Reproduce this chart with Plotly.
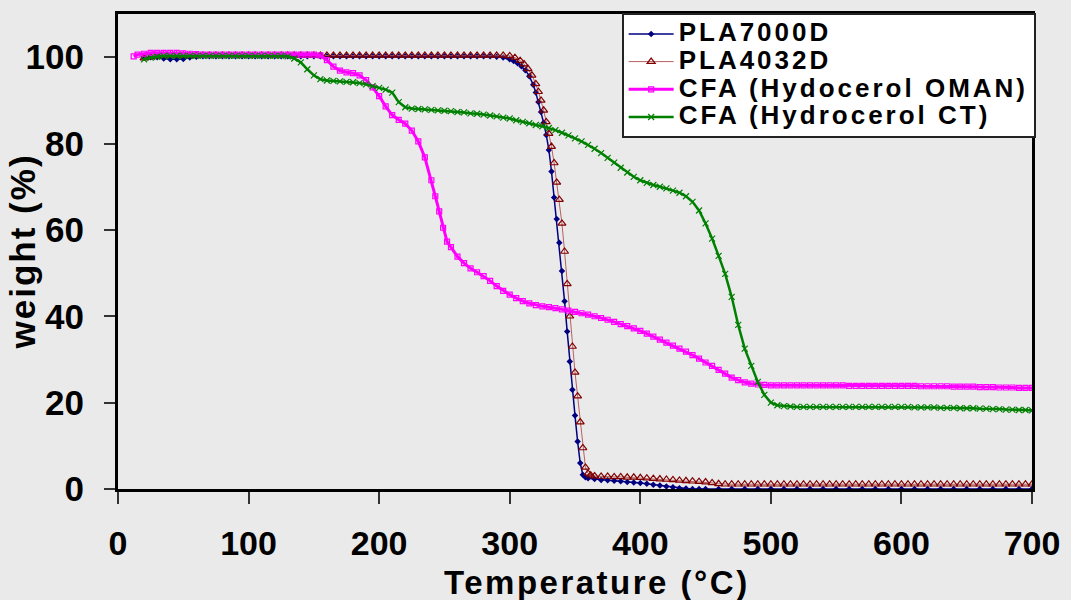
import plotly.graph_objects as go

# ---------------- data ----------------
series_names = ["PLA7000D", "PLA4032D", "CFA (Hydocerol OMAN)", "CFA (Hydrocerol CT)"]

x_ticks = [0, 100, 200, 300, 400, 500, 600, 700]
y_ticks = [0, 20, 40, 60, 80, 100]

# PLA7000D
t_pla7000 = [20, 25, 30, 35, 40, 45, 50, 55, 60,
             65, 70, 75, 80, 85, 90, 95, 100, 105, 110, 115, 120, 125, 130, 135, 140,
             145, 150, 155, 160, 165, 170, 175, 180, 185, 190, 195, 200, 205, 210, 215,
             220, 225, 230, 235, 240, 245, 250, 255, 260, 265, 270, 275, 280, 285,
             290, 295, 300, 303, 306, 309, 312, 315, 318, 320, 322, 324, 326, 328, 330,
             332, 334, 336, 338, 340, 342, 344, 346, 348, 350, 352, 354, 356, 358, 360,
             365, 370, 375, 380, 385, 390, 395, 400, 405, 410, 415, 420, 425, 430, 435,
             440, 445, 450, 460, 470, 480, 490, 500, 510, 520, 530, 540, 550, 560, 570,
             580, 590, 600, 610, 620, 630, 640, 650, 660, 670, 680, 690, 700]
w_pla7000 = [99.9, 100.0, 100.0, 99.7, 99.5, 99.5, 99.6, 99.9, 100.1,
             100.2, 100.2, 100.2, 100.2, 100.2, 100.2, 100.2, 100.2, 100.2, 100.2, 100.2, 100.2, 100.2, 100.2, 100.2, 100.2,
             100.2, 100.2, 100.2, 100.2, 100.2, 100.2, 100.2, 100.2, 100.2, 100.2, 100.2, 100.2, 100.2, 100.2, 100.2,
             100.2, 100.2, 100.2, 100.2, 100.2, 100.2, 100.2, 100.2, 100.2, 100.2, 100.2, 100.2, 100.2, 100.2,
             100.1, 99.9, 99.5, 99.1, 98.6, 97.9, 97.0, 95.6, 93.6, 91.8, 89.6, 87.3, 84.8, 82.0, 78.5,
             73.5, 67.5, 62.5, 57.0, 50.5, 43.5, 36.5, 29.5, 23.0, 17.0, 11.0, 6.0, 3.3, 2.7, 2.5,
             2.3, 2.1, 2.0, 1.9, 1.8, 1.6, 1.5, 1.4, 1.2, 1.0, 0.8, 0.6, 0.4, 0.2, 0.1,
             0.0, 0.0, 0.0, 0.0, 0.0, 0.0, 0.0, 0.0, 0.0, 0.0, 0.0, 0.0, 0.0, 0.0, 0.0,
             0.0, 0.0, 0.0, 0.0, 0.0, 0.0, 0.0, 0.0, 0.0, 0.0, 0.0, 0.0, 0.0]

# PLA4032D
t_pla4032 = [20, 25, 30, 35, 40, 45, 50, 55, 60, 65, 70, 75, 80, 85, 90, 95, 100,
             105, 110, 115, 120, 125, 130, 135, 140, 145, 150, 155, 160, 165, 170, 175, 180,
             185, 190, 195, 200, 205, 210, 215, 220, 225, 230, 235, 240, 245, 250, 255, 260,
             265, 270, 275, 280, 285, 290, 295,
             300, 304, 308, 311, 314, 317, 320, 322, 324, 326, 328, 330, 332, 334, 336, 338,
             340, 342, 344, 346, 348, 350, 352, 354, 356, 358, 360, 362, 365, 370,
             375, 380, 385, 390, 395, 400, 405, 410, 415, 420, 425, 430, 435, 440, 445, 450,
             455, 460, 465, 470, 475, 480, 485, 490, 495, 500, 505, 510, 515, 520, 525, 530,
             535, 540, 545, 550, 555, 560, 565, 570, 575, 580, 585, 590, 595, 600, 605, 610,
             615, 620, 625, 630, 635, 640, 645, 650, 655, 660, 665, 670, 675, 680, 685, 690,
             695, 700]
w_pla4032 = [99.8, 100.0, 100.2, 100.4, 100.4, 100.4, 100.4, 100.4, 100.4, 100.4, 100.4, 100.4, 100.4, 100.4, 100.4, 100.4, 100.4,
             100.4, 100.4, 100.4, 100.4, 100.4, 100.4, 100.4, 100.4, 100.4, 100.4, 100.4, 100.4, 100.4, 100.4, 100.4, 100.4,
             100.4, 100.4, 100.4, 100.4, 100.4, 100.4, 100.4, 100.4, 100.4, 100.4, 100.4, 100.4, 100.4, 100.4, 100.4, 100.4,
             100.4, 100.4, 100.4, 100.4, 100.4, 100.4, 100.4,
             100.3, 99.9, 99.2, 98.4, 97.3, 95.8, 93.8, 92.0, 90.0, 87.7, 85.0, 82.3, 79.3, 75.5, 71.0, 67.0,
             61.5, 55.0, 47.5, 40.0, 33.0, 27.0, 21.5, 15.5, 9.5, 5.0, 3.6, 3.2, 3.0, 2.9,
             2.9, 2.8, 2.8, 2.7, 2.7, 2.6, 2.5, 2.4, 2.3, 2.2, 2.1, 2.0, 1.9, 1.8, 1.7, 1.6,
             1.4, 1.2, 1.1, 1.1, 1.1, 1.1, 1.1, 1.1, 1.1, 1.1, 1.1, 1.1, 1.1, 1.1, 1.1, 1.1,
             1.1, 1.1, 1.1, 1.1, 1.1, 1.1, 1.1, 1.1, 1.1, 1.1, 1.1, 1.1, 1.1, 1.1, 1.1, 1.1,
             1.1, 1.1, 1.1, 1.1, 1.1, 1.1, 1.1, 1.1, 1.1, 1.1, 1.1, 1.1, 1.1, 1.1, 1.1, 1.1,
             1.1, 1.1]

# CFA (Hydocerol OMAN)
t_oman = [12, 15, 20, 25, 30, 35, 40, 45, 50, 55, 60,
          65, 70, 75, 80, 85, 90, 95, 100, 105, 110, 115, 120, 125, 130, 135, 140, 145, 150,
          155, 160, 165, 170, 175, 180, 185, 190, 195, 200, 205, 210, 215, 220, 225, 230,
          235, 240, 243, 246, 249, 252, 255, 260, 265, 270, 275, 280, 285, 290, 295, 300,
          305, 310, 315, 320, 325, 330, 335, 340, 345, 350, 355, 360, 365, 370, 375, 380,
          385, 390, 395, 400, 405, 410, 415, 420, 425, 430, 435, 440, 445, 450, 455, 460,
          465, 470, 475, 480, 485, 490, 495, 500, 505, 510, 515, 520, 525, 530, 535, 540,
          545, 550, 555, 560, 565, 570, 575, 580, 585, 590, 595, 600, 605, 610, 615, 620,
          625, 630, 635, 640, 645, 650, 655, 660, 665, 670, 675, 680, 685, 690, 695, 700]
w_oman = [100.2, 100.6, 100.8, 101.0, 101.0, 101.0, 101.0, 101.0, 100.9, 100.8, 100.7,
          100.6, 100.6, 100.6, 100.6, 100.6, 100.6, 100.6, 100.6, 100.6, 100.6, 100.6, 100.6, 100.6, 100.6, 100.6, 100.6, 100.6, 100.6,
          100.4, 99.3, 97.8, 96.9, 96.5, 96.3, 95.8, 94.7, 93.0, 91.0, 88.6, 86.6, 85.5, 84.6, 83.0, 80.5,
          76.8, 71.5, 67.8, 64.3, 60.5, 57.3, 56.0, 53.8, 52.3, 51.1, 50.2, 49.3, 48.2, 47.0, 45.9, 45.0,
          44.2, 43.5, 43.0, 42.6, 42.3, 42.1, 41.9, 41.6, 41.3, 41.0, 40.7, 40.4, 40.0, 39.6, 39.2, 38.7,
          38.2, 37.7, 37.2, 36.6, 36.0, 35.3, 34.6, 33.9, 33.2, 32.5, 31.8, 31.0, 30.2, 29.3, 28.5, 27.6,
          26.7, 25.8, 25.2, 24.7, 24.4, 24.2, 24.1, 24.0, 24.0, 24.0, 24.0, 24.0, 24.0, 24.0, 24.0, 24.0,
          24.0, 24.0, 24.0, 23.9, 23.9, 23.9, 23.9, 23.9, 23.9, 23.9, 23.9, 23.9, 23.9, 23.9, 23.8, 23.8,
          23.8, 23.8, 23.8, 23.7, 23.7, 23.7, 23.7, 23.6, 23.6, 23.6, 23.5, 23.5, 23.5, 23.4, 23.4, 23.4]

# CFA (Hydrocerol CT)
t_ct = [20, 25, 30, 35, 40, 45, 50, 55, 60, 65, 70, 75, 80, 85, 90, 95, 100, 105, 110, 115, 120, 125,
        130, 135, 140, 145, 150, 155, 160, 165, 170, 175, 180, 185, 190, 195, 200, 205, 210, 215,
        220, 225, 230, 235, 240, 245, 250, 255, 260, 265, 270, 275, 280, 285, 290, 295, 300, 305,
        310, 315, 320, 325, 330, 335, 340, 345, 350, 355, 360, 365, 370, 375, 380, 385, 390, 395,
        400, 405, 410, 415, 420, 425, 430, 435, 440, 445, 450, 455, 460, 465, 470, 475, 480, 485,
        490, 495, 500, 505, 510, 515, 520, 525, 530, 535, 540, 545, 550, 555, 560, 565, 570, 575,
        580, 585, 590, 595, 600, 605, 610, 615, 620, 625, 630, 635, 640, 645, 650, 655, 660, 665,
        670, 675, 680, 685, 690, 695, 700]
w_ct = [99.5, 99.9, 100.1, 100.3, 100.3, 100.3, 100.3, 100.3, 100.3, 100.3, 100.3, 100.3, 100.3, 100.3, 100.3, 100.3, 100.3, 100.3, 100.3, 100.3, 100.3, 100.3,
        100.2, 99.7, 98.8, 97.2, 95.8, 94.9, 94.6, 94.5, 94.4, 94.3, 94.2, 94.0, 93.7, 93.3, 92.9, 92.5, 91.8, 89.6,
        88.4, 88.1, 88.0, 87.9, 87.8, 87.7, 87.6, 87.5, 87.3, 87.2, 87.0, 86.9, 86.7, 86.5, 86.3, 86.0, 85.8, 85.4,
        85.0, 84.7, 84.3, 84.0, 83.6, 83.1, 82.5, 81.9, 81.2, 80.5, 79.7, 78.8, 77.8, 76.7, 75.6, 74.4, 73.3, 72.3,
        71.5, 70.9, 70.4, 70.0, 69.6, 69.1, 68.6, 67.8, 66.5, 64.5, 61.5, 58.0, 54.0, 49.8, 44.5, 38.0, 32.5, 28.5,
        24.8, 21.8, 20.0, 19.4, 19.2, 19.1, 19.0, 19.0, 19.0, 19.0, 19.0, 19.0, 19.0, 19.0, 19.0, 19.0, 19.0, 19.0,
        19.0, 19.0, 19.0, 19.0, 19.0, 19.0, 18.9, 18.9, 18.9, 18.9, 18.8, 18.8, 18.8, 18.7, 18.7, 18.7, 18.6, 18.6,
        18.5, 18.5, 18.4, 18.4, 18.3, 18.3, 18.2]

# ---------------- figure ----------------
FONT = "Liberation Sans, Arial, sans-serif"
BG = "#EAEAEA"


def wide(s, size, spacing):
    # bold glyphs with a little extra tracking, like the stretched original
    return '<span style="font-size:%dpx;letter-spacing:%.1fpx">%s</span>' % (size, spacing, s)


fig = go.Figure()

fig.add_trace(go.Scatter(
    x=t_pla7000, y=w_pla7000, name=wide(series_names[0], 26, 3), mode="lines+markers",
    line=dict(color="#000080", width=1.5),
    marker=dict(symbol="diamond", size=5, color="#000080"),
))
fig.add_trace(go.Scatter(
    x=t_pla4032, y=w_pla4032, name=wide(series_names[1], 26, 3), mode="lines+markers",
    line=dict(color="#B86060", width=1),
    marker=dict(symbol="triangle-up-open", size=7, color="#800000",
                line=dict(width=1.2, color="#800000")),
))
fig.add_trace(go.Scatter(
    x=t_oman, y=w_oman, name=wide(series_names[2], 26, 3), mode="lines+markers",
    line=dict(color="#FF00FF", width=3),
    marker=dict(symbol="square-open", size=5, color="#FF00FF",
                line=dict(width=1.2, color="#FF00FF")),
))
fig.add_trace(go.Scatter(
    x=t_ct, y=w_ct, name=wide(series_names[3], 26, 3), mode="lines+markers",
    line=dict(color="#008000", width=2.5),
    marker=dict(symbol="x-thin", size=6, color="#008000",
                line=dict(width=1.2, color="#008000")),
))

fig.update_layout(
    width=1071, height=600,
    paper_bgcolor=BG, plot_bgcolor=BG,
    margin=dict(l=118, r=37, t=11, b=111),
    font=dict(family=FONT, color="black"),
    showlegend=True,
    legend=dict(
        x=1.004, xanchor="right", y=1.002, yanchor="top",
        bgcolor="white", bordercolor="#222222", borderwidth=2,
        font=dict(family=FONT, size=19, color="black", weight="bold"),
        itemwidth=45, tracegroupgap=0,
    ),
    annotations=[
        dict(text=wide("Temperature (°C)", 33, 2.5), xref="paper", yref="paper",
             x=0.524, y=-0.196, xanchor="center", yanchor="middle", showarrow=False,
             font=dict(family=FONT, size=33, color="black", weight="bold")),
        dict(text=wide("weight (%)", 35, 2), xref="paper", yref="paper",
             x=-0.104, y=0.5, xanchor="center", yanchor="middle", showarrow=False,
             textangle=-90,
             font=dict(family=FONT, size=35, color="black", weight="bold")),
    ],
)

fig.update_xaxes(
    range=[0, 700], tickvals=x_ticks, ticktext=[str(v) for v in x_ticks],
    showgrid=False, zeroline=False,
    showline=True, linewidth=3, linecolor="black", mirror=True,
    ticks="outside", ticklen=12, tickwidth=1.5, tickcolor="#333333",
    ticklabelstandoff=10,
    tickfont=dict(family=FONT, size=34, color="black", weight="bold"),
)
fig.update_yaxes(
    range=[0, 110], tickvals=y_ticks, ticktext=[str(v) for v in y_ticks],
    showgrid=False, zeroline=False,
    showline=True, linewidth=3, linecolor="black", mirror=True,
    ticks="outside", ticklen=11, tickwidth=1.5, tickcolor="#333333",
    ticklabelstandoff=13,
    tickfont=dict(family=FONT, size=35, color="black", weight="bold"),
)

fig.write_html("out.html", config={"displayModeBar": False},
               post_script="document.body.style.margin='0px';")
